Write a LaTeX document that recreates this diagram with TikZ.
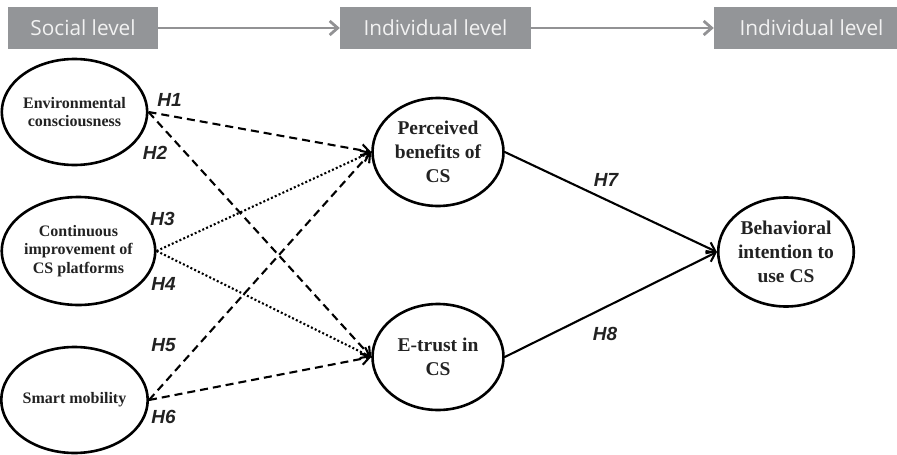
\documentclass[tikz,border=0pt]{standalone}
\usepackage{fontspec}
\setmainfont{Liberation Serif}
\newfontfamily\hdrfont{Open Sans}
\newfontfamily\lblfont{Liberation Sans}
\usetikzlibrary{shapes.geometric,arrows.meta}
\definecolor{hdrgray}{HTML}{939598}
\definecolor{hdrtext}{HTML}{F2F2F2}
\definecolor{arrgray}{HTML}{929294}
\definecolor{txtdark}{HTML}{222222}
\begin{document}
\begin{tikzpicture}[x=1pt,y=-1pt,
  hdr/.style={rectangle,fill=hdrgray,text=hdrtext,minimum height=42pt,inner sep=0pt,
    font=\hdrfont\fontsize{20.8}{24}\selectfont},
  hdrarrow/.style={draw=arrgray,line width=2.8pt,-{Straight Barb[length=8pt,width=14pt,line width=2.8pt]}},
  construct/.style={ellipse,draw=black,line width=2.6pt,inner sep=0pt,align=center,text=txtdark},
  small/.style={font=\bfseries\fontsize{16}{18.5}\selectfont},
  big/.style={font=\bfseries\fontsize{19.5}{24}\selectfont},
  hyp/.style={text=txtdark,font=\lblfont\bfseries\itshape\fontsize{19}{22}\selectfont},
  link/.style={line width=2.1pt,-{Straight Barb[length=8pt,width=12pt,line width=2.1pt]}},
  dashlink/.style={link,dash pattern=on 8pt off 5pt},
  dotlink/.style={link,dash pattern=on 2pt off 2.2pt}
]
\useasboundingbox (0,0) rectangle (897,455);
\clip (0,0) rectangle (897,455);

% header boxes
\node[hdr,minimum width=150pt] (h1) at (83,28) {Social level};
\node[hdr,minimum width=191pt] (h2) at (435.5,28) {Individual level};
\node[hdr,minimum width=195pt] (h3) at (811.5,28) {Individual level};
\draw[hdrarrow] (h1.east) -- (h2.west);
\draw[hdrarrow] (h2.east) -- (h3.west);

% constructs
\node[construct,small,minimum width=134pt,minimum height=106pt] (env) at (74.5,112) {Environmental\\consciousness};
\node[construct,small,minimum width=134pt,minimum height=108pt] (cont) at (78.5,251) {Continuous\\improvement of\\CS platforms};
\node[construct,small,minimum width=134pt,minimum height=106pt] (smart) at (74.5,400) {Smart mobility};
\node[construct,big,minimum width=131pt,minimum height=108pt] (pb) at (438,152) {Perceived\\benefits of\\CS};
\node[construct,big,minimum width=131pt,minimum height=106pt] (et) at (438,357) {E-trust in\\CS};
\node[construct,big,minimum width=131pt,minimum height=109pt] (bi) at (786,252) {Behavioral\\intention to\\use CS};

% hypotheses paths
\draw[dashlink] (env.east) -- (pb.west);
\draw[dashlink] (env.east) -- (et.west);
\draw[dotlink] (cont.east) -- (pb.west);
\draw[dotlink] (cont.east) -- (et.west);
\draw[dashlink] (smart.east) -- (pb.west);
\draw[dashlink] (smart.east) -- (et.west);
\draw[link] (pb.east) -- (bi.west);
\draw[link] (et.east) -- (bi.west);

% labels
\node[hyp] (l1) at (169.5,100) {H1};
\node[hyp] (l2) at (155,153) {H2};
\node[hyp] (l3) at (162.5,219) {H3};
\node[hyp] (l4) at (163.5,284) {H4};
\node[hyp] (l5) at (163.5,345) {H5};
\node[hyp] (l6) at (163.5,417) {H6};
\node[hyp] (l7) at (606,180) {H7};
\node[hyp] (l8) at (605,334) {H8};
\end{tikzpicture}
\end{document}
